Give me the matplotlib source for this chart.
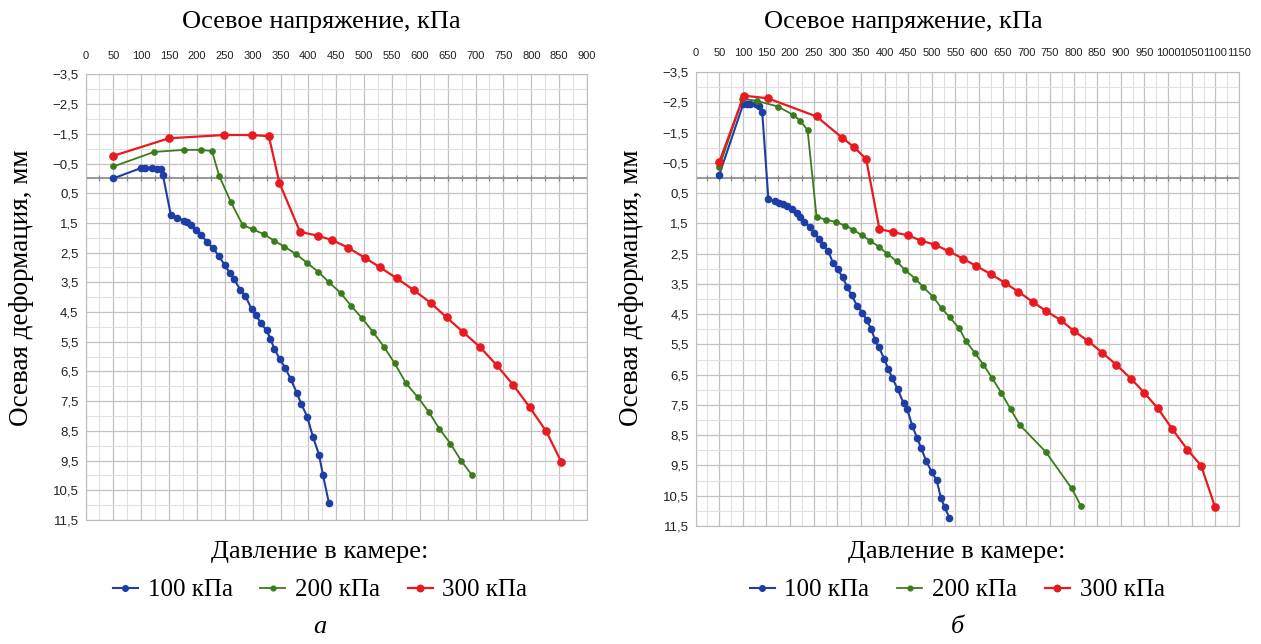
import numpy as np
import matplotlib
matplotlib.use("Agg")
import matplotlib.pyplot as plt
from matplotlib import font_manager

# --- panel a (x: axial stress, kPa; y: axial deformation, mm) ---
a_x_100 = [50, 100, 107, 119, 128, 135, 139, 153, 165, 176, 182, 189, 198, 208, 218, 229,
           239, 250, 259, 267, 278, 287, 298, 306, 315, 325, 332, 339, 349, 358, 368, 379,
           387, 398, 408, 419, 426, 437]
a_y_100 = [0.0, -0.35, -0.35, -0.35, -0.33, -0.3, -0.1, 1.22, 1.32, 1.42, 1.48, 1.58, 1.74,
           1.9, 2.15, 2.36, 2.6, 2.93, 3.18, 3.4, 3.76, 3.96, 4.4, 4.6, 4.88, 5.12, 5.4, 5.75,
           6.09, 6.37, 6.74, 7.21, 7.58, 8.03, 8.69, 9.3, 9.97, 10.94]

a_x_200 = [50, 123, 177, 207, 227, 240, 261, 282, 301, 320, 339, 357, 378, 398, 418, 437,
           458, 477, 496, 516, 536, 555, 575, 596, 616, 635, 655, 674, 694]
a_y_200 = [-0.4, -0.89, -0.96, -0.96, -0.92, -0.08, 0.8, 1.57, 1.72, 1.88, 2.1, 2.3, 2.55,
           2.85, 3.15, 3.5, 3.86, 4.3, 4.7, 5.17, 5.68, 6.23, 6.89, 7.36, 7.86, 8.43, 8.93,
           9.5, 10.0]

a_x_300 = [50, 150, 249, 299, 329, 348, 385, 417, 443, 471, 502, 529, 559, 589, 620, 648,
           678, 708, 738, 767, 797, 827, 854]
a_y_300 = [-0.76, -1.35, -1.46, -1.46, -1.42, 0.15, 1.8, 1.93, 2.08, 2.33, 2.68, 3.0, 3.37,
           3.76, 4.2, 4.68, 5.18, 5.68, 6.29, 6.94, 7.7, 8.52, 9.55]

# --- panel б ---
b_x_100 = [50, 101, 108, 116, 128, 135, 141, 154, 167, 177, 186, 194, 203, 214, 222, 230,
           242, 251, 262, 270, 281, 291, 301, 311, 321, 330, 342, 353, 362, 372, 380, 388,
           399, 408, 416, 428, 440, 448, 459, 469, 477, 488, 500, 510, 519, 527, 537]
b_y_100 = [-0.1, -2.45, -2.45, -2.45, -2.44, -2.38, -2.17, 0.69, 0.77, 0.83, 0.85, 0.92,
           1.03, 1.16, 1.3, 1.46, 1.62, 1.82, 2.01, 2.21, 2.43, 2.82, 3.02, 3.28, 3.61, 3.87,
           4.23, 4.45, 4.7, 5.0, 5.37, 5.6, 5.97, 6.31, 6.6, 6.99, 7.44, 7.65, 8.21, 8.6,
           8.92, 9.35, 9.73, 9.98, 10.56, 10.88, 11.22]

b_x_200 = [50, 99, 129, 174, 207, 222, 237, 256, 276, 298, 317, 334, 352, 370, 389, 406,
           426, 443, 465, 482, 502, 521, 538, 558, 572, 591, 609, 628, 647, 667, 686, 741,
           796, 816]
b_y_200 = [-0.36, -2.61, -2.55, -2.36, -2.08, -1.88, -1.58, 1.29, 1.38, 1.46, 1.58, 1.71,
           1.9, 2.08, 2.29, 2.51, 2.76, 3.04, 3.33, 3.61, 3.92, 4.31, 4.61, 4.97, 5.39, 5.78,
           6.17, 6.62, 7.1, 7.65, 8.16, 9.05, 10.26, 10.85]

b_x_300 = [50, 102, 153, 256, 310, 336, 361, 389, 418, 450, 477, 507, 537, 566, 594, 625,
           654, 683, 713, 742, 773, 801, 831, 861, 890, 922, 949, 978, 1009, 1041, 1070, 1099]
b_y_300 = [-0.52, -2.72, -2.63, -2.03, -1.33, -1.01, -0.62, 1.69, 1.79, 1.9, 2.07, 2.21,
           2.43, 2.67, 2.91, 3.18, 3.46, 3.76, 4.09, 4.4, 4.7, 5.06, 5.39, 5.78, 6.17, 6.64,
           7.09, 7.61, 8.3, 8.98, 9.51, 10.86]

labels = ['100 кПа', '200 кПа', '300 кПа']
colors = ['#1e3ea6', '#3a7b1c', '#e8191f']


def pick_font(names):
    have = {f.name for f in font_manager.fontManager.ttflist}
    for n in names:
        if n in have:
            return n
    return 'DejaVu Sans'


SANS = pick_font(['Liberation Sans Narrow', 'Liberation Sans'])
SERIF = pick_font(['Liberation Serif', 'DejaVu Serif'])
plt.rcParams['font.family'] = [SANS, 'DejaVu Sans']


def fmt(v):
    return ('%.1f' % v).replace('.', ',').replace('-', '\u2212')


def draw_panel(ax, xmax, xs, ys):
    ax.set_xlim(0, xmax)
    ax.set_ylim(11.5, -3.5)
    ax.set_xticks(np.arange(0, xmax + 1, 50))
    ax.set_xticks(np.arange(0, xmax + 1, 25), minor=True)
    yt = np.arange(-3.5, 11.6, 1.0)
    ax.set_yticks(yt)
    ax.set_yticklabels([fmt(v) for v in yt])
    ax.set_yticks(np.arange(-3.5, 11.6, 0.5), minor=True)
    ax.xaxis.tick_top()
    ax.tick_params(which='both', length=0, colors='#222222')
    ax.tick_params(axis='x', pad=10, labelsize=8)
    ax.tick_params(axis='y', pad=5, labelsize=9.5)
    ax.grid(which='major', color='#c2c2c2', lw=0.9)
    ax.grid(which='minor', color='#e0e0e0', lw=0.8)
    ax.set_axisbelow(True)
    for sp in ax.spines.values():
        sp.set_color('#bdbdbd')
    # horizontal axis through zero with small ticks
    ax.axhline(0, color='#8a8a8a', lw=1.2, zorder=1.5)
    xt = np.arange(0, xmax + 1, 25)
    ax.plot(xt, np.zeros(len(xt)), ls='none', marker='|', ms=5, mew=0.9,
            color='#8a8a8a', zorder=1.5)
    sizes = [4.5, 3.8, 5.2]
    widths = [1.5, 1.3, 1.6]
    handles = []
    for x, y, c, ms, lw, lab in zip(xs, ys, colors, sizes, widths, labels):
        h, = ax.plot(x, y, '-o', color=c, ms=ms, lw=lw, label=lab, zorder=3)
        handles.append(h)
    return handles


fig = plt.figure(figsize=(12.61, 6.44), dpi=100)
H = 644.0
W = 1261.0

ax1 = fig.add_axes([85.5 / W, 1 - 520 / H, (587 - 85.5) / W, (520 - 74.4) / H])
ax2 = fig.add_axes([695.6 / W, 1 - 526 / H, (1239 - 695.6) / W, (526 - 72) / H])

h1 = draw_panel(ax1, 900, [a_x_100, a_x_200, a_x_300], [a_y_100, a_y_200, a_y_300])
h2 = draw_panel(ax2, 1150, [b_x_100, b_x_200, b_x_300], [b_y_100, b_y_200, b_y_300])

# (title x, ylabel x, legend x, handles, sub-label)
panels = [(321, 22, 320, h1, 'а'), (903, 632, 957, h2, 'б')]
for tx, ylx, cx, hs, sub in panels:
    fig.text(tx / W, 1 - 22 / H, 'Осевое напряжение, кПа', ha='center', va='center',
             fontsize=19, family=SERIF)
    fig.text(ylx / W, 1 - 288 / H, 'Осевая деформация, мм', ha='center', va='center',
             rotation=90, fontsize=19.5, family=SERIF)
    fig.text(cx / W, 1 - 552 / H, 'Давление в камере:', ha='center', va='center',
             fontsize=19, family=SERIF)
    fig.legend(handles=hs, loc='center', bbox_to_anchor=(cx / W, 1 - 590 / H), ncol=3,
               frameon=False, prop={'family': SERIF, 'size': 18}, handlelength=1.0,
               handletextpad=0.4, columnspacing=1.1, markerscale=0.9)
    fig.text(cx / W, 1 - 627 / H, sub, ha='center', va='center', fontsize=19,
             family=SERIF, style='italic')

fig.savefig('out.png', dpi=100)
